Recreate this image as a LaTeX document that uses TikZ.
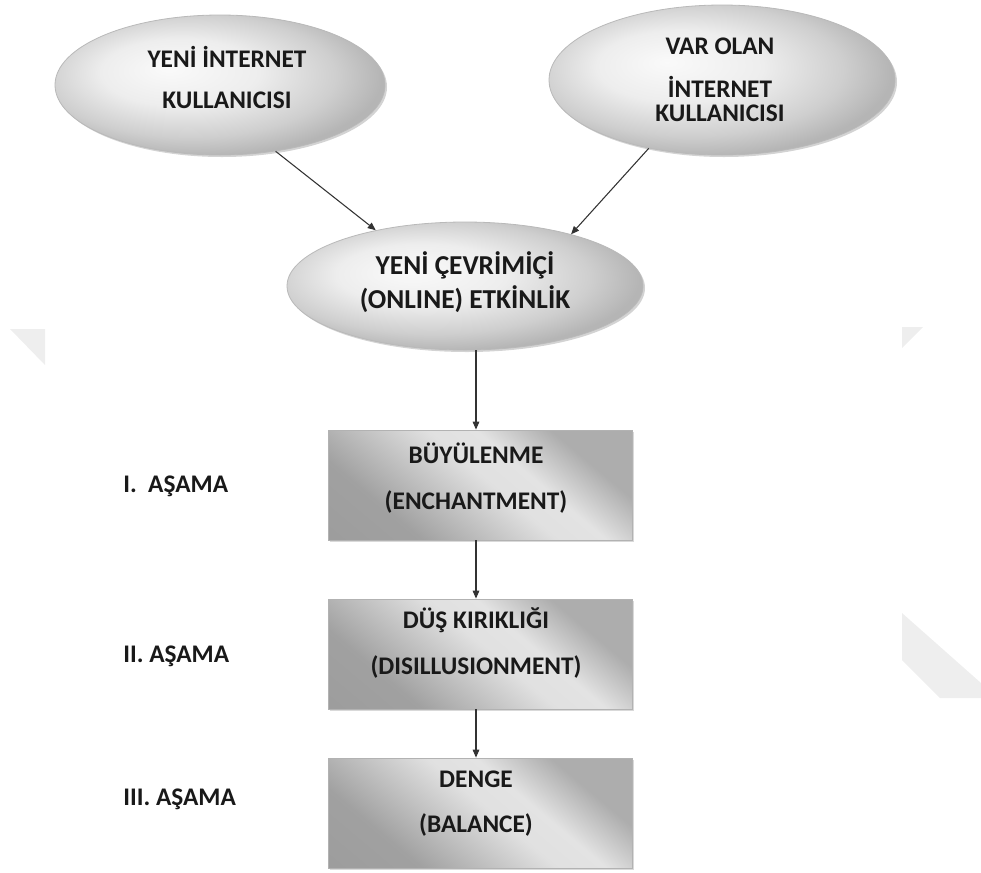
\documentclass[tikz,border=0pt]{standalone}
\usepackage{fontspec}
\setmainfont{Carlito}
\usetikzlibrary{arrows.meta,shadows,shapes.geometric}
\pgfdeclarehorizontalshading{boxshade}{100bp}{color(0bp)=(gray!80); color(30bp)=(gray!74); color(52bp)=(gray!24); color(60bp)=(gray!22); color(72bp)=(gray!64); color(100bp)=(gray!64)}
\pgfdeclareradialshading{ovalshade}{\pgfpoint{-8bp}{6bp}}{color(0bp)=(gray!4); color(12bp)=(gray!14); color(22bp)=(gray!38); color(28bp)=(gray!58); color(50bp)=(gray!70)}
\begin{document}
\begin{tikzpicture}[x=0.75pt,y=-0.75pt,
  lbl/.style={font=\fontsize{19}{23}\selectfont\bfseries, text=black!90, inner sep=0pt},
  oval/.style={ellipse, draw=gray!55, line width=0.6pt, inner sep=0pt,
     shading=ovalshade,
     drop shadow={opacity=0.35, shadow xshift=1.5pt, shadow yshift=-1.5pt}},
  stagebox/.style={rectangle, draw=gray!60, line width=0.6pt, inner sep=0pt,
     minimum width=228pt, minimum height=82.5pt,
     shading=boxshade, shading angle=50,
     drop shadow={opacity=0.3, shadow xshift=1.2pt, shadow yshift=-1.2pt}},
  arr/.style={draw=black!80, line width=0.8pt, -{Triangle[length=6pt,width=5pt]}},
  bgmark/.style={fill=gray!13, draw=none}]
\useasboundingbox (0,0) rectangle (981,872);
% faint background marks
\fill[bgmark] (10,329) -- (45,329) -- (45,365) -- cycle;
\fill[bgmark] (902,327) -- (923,327) -- (902,348) -- cycle;
\fill[bgmark] (902,613) -- (981,683) -- (981,698) -- (940,698) -- (902,660) -- cycle;
% ovals
\node[oval, minimum width=247.5pt, minimum height=105pt] (e1) at (220,85) {};
\node[oval, minimum width=259.5pt, minimum height=112.5pt] (e2) at (722,80) {};
\node[oval, minimum width=267pt, minimum height=96pt] (e3) at (465,286) {};
\node[lbl] (e1a) at (227,57) {YENİ İNTERNET};
\node[lbl] (e1b) at (227,100) {KULLANICISI};
\node[lbl] (e2a) at (720,46) {VAR OLAN};
\node[lbl] (e2b) at (720,87) {İNTERNET};
\node[lbl] (e2c) at (720,113) {KULLANICISI};
\node[lbl, font=\fontsize{20.5}{24}\selectfont\bfseries] (e3a) at (465,265) {YENİ ÇEVRİMİÇİ};
\node[lbl, font=\fontsize{20.5}{24}\selectfont\bfseries] (e3b) at (465,299) {(ONLINE) ETKİNLİK};
% boxes
\node[stagebox] (b1) at (480,485) {};
\node[stagebox] (b2) at (480,654) {};
\node[stagebox] (b3) at (480,813) {};
\node[lbl] (b1a) at (476,453) {BÜYÜLENME};
\node[lbl] (b1b) at (476,502) {(ENCHANTMENT)};
\node[lbl] (b2a) at (476,620) {DÜŞ KIRIKLIĞI};
\node[lbl] (b2b) at (476,667) {(DISILLUSIONMENT)};
\node[lbl] (b3a) at (476,779) {DENGE};
\node[lbl] (b3b) at (476,825) {(BALANCE)};
% stage labels
\node[lbl, anchor=west] (s1) at (123,486) {I.\ \ AŞAMA};
\node[lbl, anchor=west] (s2) at (123,656) {II. AŞAMA};
\node[lbl, anchor=west] (s3) at (123,799) {III. AŞAMA};
% connectors
\coordinate (ax) at (476,0);
\draw[arr] (e1.-50.4) -- (e3.148);
\draw[arr] (e2.223) -- (e3.26);
\draw[arr] (ax |- e3.south) -- (ax |- b1.north);
\draw[arr] (ax |- b1.south) -- (ax |- b2.north);
\draw[arr] (ax |- b2.south) -- (ax |- b3.north);
\end{tikzpicture}
\end{document}
